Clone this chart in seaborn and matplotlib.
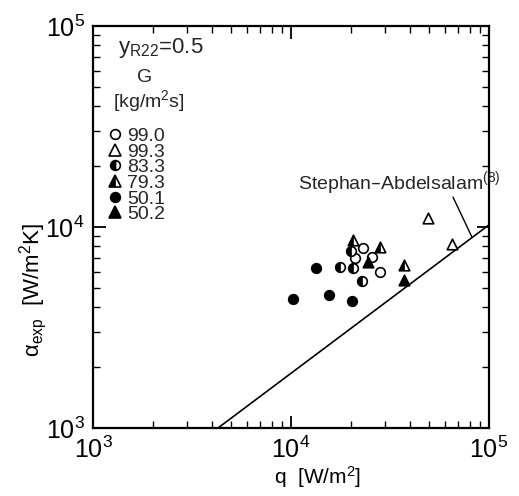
import matplotlib
matplotlib.use("Agg")
import matplotlib.pyplot as plt
from matplotlib.lines import Line2D
from matplotlib.markers import MarkerStyle
import seaborn as sns
import pandas as pd

# ---- data ----
g_labels = ["99.0", "99.3", "83.3", "79.3", "50.1", "50.2"]

q_990 = [23100, 21000, 25600, 28100]
a_990 = [7870, 7020, 7100, 5970]

q_993 = [49200, 65000]
a_993 = [11100, 8220]

q_833 = [20100, 17700, 20600, 22900]
a_833 = [7600, 6320, 6250, 5380]

q_793 = [20600, 28100, 37200]
a_793 = [8610, 7950, 6470]

q_501 = [13400, 10200, 15600, 20300]
a_501 = [6250, 4380, 4590, 4290]

q_502 = [24500, 37200]
a_502 = [6700, 5450]

# Stephan-Abdelsalam correlation line
q_sa = [4280, 100000]
a_sa = [1000, 10250]

sns.set_theme(style="ticks")
plt.rcParams["font.family"] = ["Liberation Sans", "DejaVu Sans"]
plt.rcParams["mathtext.default"] = "regular"

fig = plt.figure(figsize=(5.19, 4.96), dpi=100)
ax = fig.add_axes([93/519, 1-428/496, 396/519, 402/496])

ms = 48
ek = dict(edgecolor="black", linewidth=1.2)

def df(q, a):
    return pd.DataFrame({"q": q, "alpha": a})

# open circles 99.0
sns.scatterplot(data=df(q_990, a_990), x="q", y="alpha", ax=ax, marker="o",
                s=ms, facecolor="white", **ek, zorder=3)
# open triangles 99.3
sns.scatterplot(data=df(q_993, a_993), x="q", y="alpha", ax=ax, marker="^",
                s=ms*1.2, facecolor="white", **ek, zorder=3)
# half circles 83.3
sns.scatterplot(data=df(q_833, a_833), x="q", y="alpha", ax=ax, marker="o",
                s=ms, facecolor="white", **ek, zorder=3)
sns.scatterplot(data=df(q_833, a_833), x="q", y="alpha", ax=ax,
                marker=MarkerStyle("o", fillstyle="left"),
                s=ms, facecolor="black", edgecolor="black", linewidth=0.5, zorder=4)
# half triangles 79.3
sns.scatterplot(data=df(q_793, a_793), x="q", y="alpha", ax=ax, marker="^",
                s=ms*1.2, facecolor="white", **ek, zorder=3)
sns.scatterplot(data=df(q_793, a_793), x="q", y="alpha", ax=ax,
                marker=MarkerStyle("^", fillstyle="left"),
                s=ms*1.2, facecolor="black", edgecolor="black", linewidth=0.5, zorder=4)
# filled circles 50.1
sns.scatterplot(data=df(q_501, a_501), x="q", y="alpha", ax=ax, marker="o",
                s=ms, facecolor="black", **ek, zorder=3)
# filled triangles 50.2
sns.scatterplot(data=df(q_502, a_502), x="q", y="alpha", ax=ax, marker="^",
                s=ms*1.2, facecolor="black", **ek, zorder=3)

# correlation line
sns.lineplot(data=df(q_sa, a_sa), x="q", y="alpha", ax=ax, color="black",
             linewidth=1.2, estimator=None, sort=False, zorder=2)

ax.set_xscale("log")
ax.set_yscale("log")
ax.set_xlim(1e3, 1e5)
ax.set_ylim(1e3, 1e5)

for sp in ax.spines.values():
    sp.set_linewidth(1.6)
    sp.set_color("black")

ax.tick_params(which="both", direction="in", top=True, right=True, colors="black")
ax.tick_params(which="major", length=9, width=1.3, labelsize=18, pad=6)
ax.tick_params(which="minor", length=5, width=1.0)

ax.set_xlabel("q  [W/m$^2$]", fontsize=15, color="black")
ax.set_ylabel(r"$\alpha_{exp}$  [W/m$^2$K]", fontsize=16, color="black")
ax.xaxis.set_label_coords(0.566, -0.09)
ax.yaxis.set_label_coords(-0.11, 0.343)

# header of legend
ax.text(0.063, 0.975, r"$y_{R22}$=0.5", transform=ax.transAxes, fontsize=16,
        ha="left", va="top")
ax.text(0.131, 0.873, "G", transform=ax.transAxes, fontsize=14, ha="center", va="center")
ax.text(0.14, 0.813, "[kg/m$^2$s]", transform=ax.transAxes, fontsize=14,
        ha="center", va="center")

handles = [
    Line2D([], [], ls="none", marker="o", ms=7, mfc="white", mec="black", mew=1.2),
    Line2D([], [], ls="none", marker="^", ms=8, mfc="white", mec="black", mew=1.2),
    Line2D([], [], ls="none", marker="o", ms=7, fillstyle="left", mfc="black",
           mfcalt="white", mec="black", mew=1.2),
    Line2D([], [], ls="none", marker="^", ms=8, fillstyle="left", mfc="black",
           mfcalt="white", mec="black", mew=1.2),
    Line2D([], [], ls="none", marker="o", ms=7, mfc="black", mec="black", mew=1.2),
    Line2D([], [], ls="none", marker="^", ms=8, mfc="black", mec="black", mew=1.2),
]
leg = ax.legend(handles, g_labels, loc="upper left", bbox_to_anchor=(0.035, 0.748),
                frameon=False, fontsize=14, handlelength=0.8, handletextpad=0.25,
                labelspacing=-0.1, borderpad=0, borderaxespad=0)

ax.text(10840, 16560, "Stephan\u2013Abdelsalam$^{(8)}$", fontsize=14,
        ha="left", va="center")
ax.annotate("", xy=(82000, 8910), xytext=(65800, 14090),
            arrowprops=dict(arrowstyle="-", color="black", lw=1.0,
                            shrinkA=0, shrinkB=0))

fig.savefig("out.png", dpi=100, facecolor="white")
